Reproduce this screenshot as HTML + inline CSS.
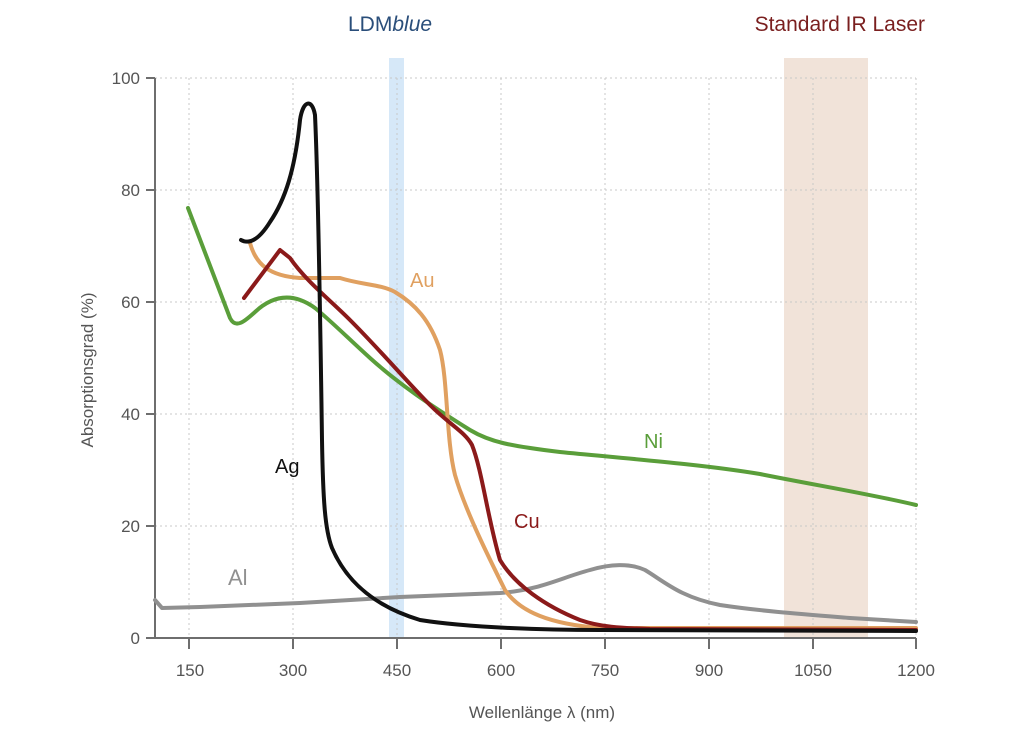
<!DOCTYPE html>
<html><head><meta charset="utf-8"><style>
html,body{margin:0;padding:0;background:#fff;}
svg{display:block;font-family:"Liberation Sans",sans-serif;}
</style></head><body>
<svg width="1035" height="742" viewBox="0 0 1035 742" xmlns="http://www.w3.org/2000/svg">
<rect x="389" y="58" width="15" height="580" fill="#d6e8f8"/>
<rect x="784" y="58" width="84" height="580" fill="#f1e3d9"/>
<g stroke="#c8c8c8" stroke-width="1" stroke-dasharray="2,3">
<line x1="189" y1="78" x2="189" y2="638"/><line x1="293" y1="78" x2="293" y2="638"/>
<line x1="397" y1="78" x2="397" y2="638"/><line x1="501" y1="78" x2="501" y2="638"/>
<line x1="605" y1="78" x2="605" y2="638"/><line x1="709" y1="78" x2="709" y2="638"/>
<line x1="813" y1="78" x2="813" y2="638"/><line x1="916" y1="78" x2="916" y2="638"/>
<line x1="155" y1="78" x2="916" y2="78"/><line x1="155" y1="190" x2="916" y2="190"/>
<line x1="155" y1="302" x2="916" y2="302"/><line x1="155" y1="414" x2="916" y2="414"/>
<line x1="155" y1="526" x2="916" y2="526"/>
</g>
<g stroke="#6e6e6e" stroke-width="2" fill="none">
<path d="M155 78 V638 H916"/>
<path d="M146 78H155M146 190H155M146 302H155M146 414H155M146 526H155M146 638H155"/>
<path d="M189 638V649M293 638V649M397 638V649M501 638V649M605 638V649M709 638V649M813 638V649M916 638V649"/>
</g>
<g fill="#555" font-size="17" text-anchor="end">
<text x="140" y="84">100</text><text x="140" y="196">80</text><text x="140" y="308">60</text>
<text x="140" y="420">40</text><text x="140" y="532">20</text><text x="140" y="644">0</text>
</g>
<g fill="#555" font-size="17" text-anchor="middle">
<text x="190" y="676">150</text><text x="293" y="676">300</text><text x="397" y="676">450</text>
<text x="501" y="676">600</text><text x="605" y="676">750</text><text x="709" y="676">900</text>
<text x="813" y="676">1050</text><text x="916" y="676">1200</text>
<text x="542" y="718">Wellenlänge λ (nm)</text>
<text transform="translate(93,370) rotate(-90)">Absorptionsgrad (%)</text>
</g>
<text x="348" y="31" font-size="21" fill="#2a4e7a">LDM<tspan font-style="italic">blue</tspan></text>
<text x="925" y="31" font-size="21" fill="#7a1f1f" text-anchor="end">Standard IR Laser</text>
<g fill="none" stroke-width="4" stroke-linecap="round" stroke-linejoin="round">
<path stroke="#909090" d="M155 600 L162 608 L200 607 L300 603 L400 597 L500 593 C540 590 560 578 590 570 C610 564 630 563 645 570 C665 582 680 597 720 605 C760 611 800 614 850 618 L916 622"/>
<path stroke="#5a9e3a" d="M188 208 L230 318 C236 330 246 320 255 312 C270 298 290 290 315 308 C330 320 350 340 370 358 C400 385 430 405 470 430 C490 442 510 446 560 452 C620 458 700 464 760 474 C820 486 870 494 916 505"/>
<path stroke="#e0a060" d="M250 243 C256 265 270 276 300 278 L340 278 C362 285 380 284 395 292 C415 304 430 320 440 350 C448 380 446 440 455 475 C465 510 490 560 505 590 C520 612 550 624 600 628 L916 628"/>
<path stroke="#8b1a1a" d="M244 298 L280 250 L290 258 C305 280 330 300 350 320 C380 350 410 385 430 405 C450 425 465 432 472 445 C482 470 488 520 500 560 C515 585 545 606 580 620 C600 627 620 628 650 629 L916 630"/>
<path stroke="#111" d="M241 240 C250 245 260 238 270 222 C285 200 295 170 300 120 C303 100 312 98 315 115 C318 180 320 300 322 440 C323 500 325 530 332 548 C345 578 370 605 420 620 C470 628 550 630 600 630 L916 631"/>
</g>
<g font-size="20">
<text x="275" y="473" fill="#111">Ag</text>
<text x="410" y="287" fill="#e0a060">Au</text>
<text x="514" y="528" fill="#8b1a1a">Cu</text>
<text x="644" y="448" fill="#5a9e3a">Ni</text>
<text x="228" y="585" fill="#909090" font-size="22">Al</text>
</g>
</svg>
</body></html>
